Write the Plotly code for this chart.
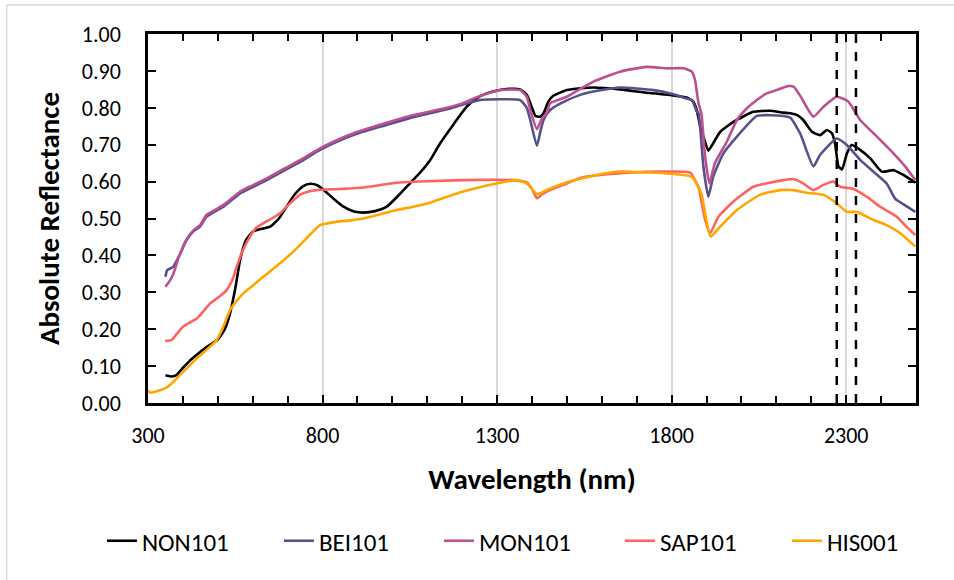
import plotly.graph_objects as go

# ---------------- data ----------------
wl_non = [350, 365, 380, 400, 420, 445, 470, 500, 520, 535, 550, 564, 580, 600, 625, 650, 675, 697, 720, 745,
          765, 785, 800, 830, 860, 890, 917, 950, 984, 1020, 1051, 1080, 1108, 1137, 1175, 1213, 1240, 1270,
          1300, 1328, 1366, 1385, 1399, 1410, 1423, 1433, 1447, 1460, 1500, 1540, 1576, 1652, 1738, 1800,
          1843, 1862, 1872, 1882, 1891, 1905, 1919, 1939, 1977, 2034, 2082, 2111, 2140, 2160, 2177, 2202,
          2225, 2245, 2259, 2268, 2278, 2288, 2302, 2316, 2340, 2369, 2402, 2436, 2464, 2498]
non101 = [0.075, 0.072, 0.075, 0.095, 0.115, 0.135, 0.153, 0.172, 0.200, 0.243, 0.310, 0.388, 0.440, 0.464,
          0.472, 0.478, 0.500, 0.532, 0.565, 0.588, 0.594, 0.590, 0.580, 0.555, 0.532, 0.519, 0.516, 0.520,
          0.532, 0.565, 0.596, 0.625, 0.658, 0.704, 0.755, 0.803, 0.825, 0.839, 0.847, 0.851, 0.850, 0.835,
          0.803, 0.778, 0.776, 0.785, 0.817, 0.832, 0.848, 0.853, 0.855, 0.850, 0.840, 0.834, 0.828, 0.817,
          0.794, 0.749, 0.722, 0.684, 0.704, 0.735, 0.762, 0.789, 0.792, 0.788, 0.785, 0.780, 0.767, 0.735,
          0.726, 0.740, 0.731, 0.704, 0.641, 0.633, 0.676, 0.699, 0.686, 0.663, 0.627, 0.631, 0.618, 0.597]

wl_bei = [350, 355, 372, 390, 411, 430, 449, 468, 490, 516, 540, 564, 600, 640, 690, 735, 793, 831, 900, 974,
          1050, 1156, 1200, 1251, 1309, 1366, 1385, 1395, 1414, 1425, 1433, 1447, 1462, 1500, 1538, 1600,
          1652, 1748, 1800, 1843, 1858, 1872, 1877, 1891, 1905, 1919, 1948, 1987, 2044, 2080, 2120, 2140,
          2168, 2206, 2225, 2273, 2302, 2340, 2378, 2416, 2440, 2470, 2498]
bei101 = [0.342, 0.360, 0.369, 0.400, 0.442, 0.465, 0.478, 0.505, 0.518, 0.532, 0.550, 0.568, 0.585, 0.604,
          0.630, 0.653, 0.686, 0.704, 0.730, 0.751, 0.772, 0.796, 0.808, 0.821, 0.823, 0.821, 0.800, 0.767,
          0.697, 0.740, 0.767, 0.789, 0.801, 0.820, 0.835, 0.848, 0.855, 0.848, 0.838, 0.825, 0.821, 0.790,
          0.785, 0.641, 0.559, 0.613, 0.676, 0.722, 0.778, 0.780, 0.778, 0.773, 0.731, 0.641, 0.672, 0.717,
          0.699, 0.659, 0.627, 0.595, 0.554, 0.535, 0.518]

wl_mon = [350, 365, 373, 390, 411, 430, 449, 468, 490, 516, 540, 564, 600, 640, 690, 735, 793, 831, 900, 974,
          1050, 1156, 1200, 1251, 1309, 1366, 1385, 1395, 1414, 1428, 1442, 1452, 1500, 1540, 1576, 1652,
          1729, 1786, 1834, 1858, 1867, 1877, 1885, 1896, 1908, 1924, 1958, 1987, 2015, 2044, 2072, 2101,
          2135, 2150, 2168, 2206, 2235, 2273, 2306, 2340, 2388, 2436, 2470, 2498]
mon101 = [0.315, 0.335, 0.351, 0.400, 0.445, 0.468, 0.482, 0.510, 0.522, 0.537, 0.555, 0.573, 0.590, 0.609,
          0.635, 0.658, 0.690, 0.708, 0.735, 0.757, 0.778, 0.800, 0.812, 0.832, 0.848, 0.848, 0.830, 0.794,
          0.742, 0.770, 0.785, 0.812, 0.830, 0.852, 0.871, 0.898, 0.911, 0.907, 0.907, 0.898, 0.875, 0.812,
          0.785, 0.667, 0.595, 0.650, 0.708, 0.767, 0.798, 0.821, 0.839, 0.848, 0.859, 0.857, 0.833, 0.776,
          0.803, 0.830, 0.817, 0.767, 0.722, 0.676, 0.640, 0.604]

wl_sap = [349, 368, 385, 401, 420, 440, 460, 478, 500, 525, 540, 554, 570, 592, 610, 630, 655, 678, 700, 735,
          760, 783, 850, 917, 1012, 1100, 1203, 1300, 1346, 1385, 1400, 1414, 1428, 1442, 1500, 1538, 1595,
          1691, 1767, 1853, 1872, 1877, 1896, 1910, 1934, 1977, 2034, 2080, 2120, 2149, 2177, 2206, 2235,
          2264, 2283, 2321, 2359, 2397, 2445, 2470, 2498]
sap101 = [0.168, 0.171, 0.190, 0.207, 0.218, 0.229, 0.250, 0.270, 0.285, 0.306, 0.330, 0.369, 0.410, 0.451,
          0.475, 0.487, 0.500, 0.514, 0.535, 0.564, 0.573, 0.577, 0.580, 0.584, 0.597, 0.601, 0.604, 0.605,
          0.604, 0.598, 0.580, 0.555, 0.565, 0.573, 0.595, 0.610, 0.618, 0.625, 0.627, 0.624, 0.595, 0.586,
          0.496, 0.460, 0.505, 0.546, 0.586, 0.597, 0.604, 0.607, 0.595, 0.577, 0.591, 0.600, 0.586, 0.580,
          0.559, 0.532, 0.505, 0.480, 0.455]

wl_his = [300, 306, 330, 353, 370, 392, 415, 440, 470, 497, 515, 535, 555, 573, 600, 630, 680, 726, 760, 793,
          840, 880, 917, 960, 1012, 1060, 1108, 1160, 1203, 1250, 1299, 1356, 1385, 1400, 1414, 1442, 1500,
          1595, 1652, 1700, 1786, 1858, 1885, 1901, 1912, 1939, 1987, 2053, 2111, 2149, 2187, 2235, 2273,
          2302, 2331, 2369, 2416, 2455, 2498]
his001 = [0.035, 0.028, 0.033, 0.042, 0.055, 0.076, 0.098, 0.121, 0.146, 0.171, 0.205, 0.252, 0.278, 0.297,
          0.318, 0.342, 0.380, 0.419, 0.452, 0.482, 0.491, 0.495, 0.500, 0.510, 0.523, 0.532, 0.543, 0.560,
          0.573, 0.585, 0.595, 0.604, 0.595, 0.580, 0.566, 0.577, 0.598, 0.620, 0.627, 0.626, 0.622, 0.613,
          0.568, 0.487, 0.451, 0.478, 0.523, 0.564, 0.577, 0.577, 0.570, 0.564, 0.541, 0.518, 0.518, 0.500,
          0.482, 0.460, 0.424]

series_names = ["NON101", "BEI101", "MON101", "SAP101", "HIS001"]
series_x = [wl_non, wl_bei, wl_mon, wl_sap, wl_his]
series_y = [non101, bei101, mon101, sap101, his001]

x_tick_vals = [300, 800, 1300, 1800, 2300]
x_tick_text = ["300", "800", "1300", "1800", "2300"]
band_edges = [2273, 2328]

# ---------------- styles ----------------
series_colors = ["#000000", "#58508D", "#BC5090", "#FF6361", "#FFA600"]
legend_widths = [132, 115, 136, 122, 90]
FONT = "Carlito, Lato, 'Open Sans', sans-serif"

fig = go.Figure()
for name, xs, ys, col, lw in zip(series_names, series_x, series_y, series_colors, legend_widths):
    fig.add_trace(go.Scatter(x=xs, y=ys, name=name, mode="lines", legendwidth=lw,
                             line=dict(color=col, width=2.6, shape="spline", smoothing=0.5)))

for xe in band_edges:
    fig.add_shape(type="line", xref="x", yref="y", x0=xe, x1=xe, y0=0, y1=1,
                  line=dict(color="black", width=2.5, dash="dash"))

# light outer chart-area border
fig.add_shape(type="rect", xref="paper", yref="paper",
              x0=-0.184, x1=1.2, y0=-0.7, y1=1.0786,
              line=dict(color="#D9D9D9", width=1.5), layer="below")

fig.update_layout(
    width=954, height=580,
    margin=dict(l=148, r=38, t=34, b=177),
    paper_bgcolor="white", plot_bgcolor="white",
    font=dict(family=FONT, color="black", size=22),
    showlegend=True,
    legend=dict(orientation="h", x=-0.06, xanchor="left", y=-0.374, yanchor="middle",
                font=dict(size=25, family=FONT), itemwidth=30,
                bgcolor="rgba(0,0,0,0)"),
    xaxis=dict(range=[300, 2500], tickvals=x_tick_vals, ticktext=x_tick_text,
               showgrid=True, gridcolor="#D9D9D9", gridwidth=2,
               showline=True, linecolor="black", linewidth=2.5, mirror="allticks",
               ticks="inside", ticklen=8, tickwidth=2, tickcolor="black",
               minor=dict(dtick=100, tick0=300, ticks="inside", ticklen=7, tickwidth=2,
                          tickcolor="black", showgrid=False),
               ticklabelstandoff=11, tickfont=dict(size=22),
               title=dict(text="<b>Wavelength (nm)</b>", font=dict(size=29), standoff=21),
               zeroline=False),
    yaxis=dict(range=[0, 1], dtick=0.1, tick0=0, tickformat=".2f",
               showgrid=False, showline=True, linecolor="black", linewidth=2.5, mirror="allticks",
               ticks="inside", ticklen=8, tickwidth=2, tickcolor="black",
               ticklabelstandoff=20, tickfont=dict(size=22),
               title=dict(text="<b>Absolute Reflectance</b>", font=dict(size=29), standoff=14),
               zeroline=False),
)

fig.write_html("out.html")
